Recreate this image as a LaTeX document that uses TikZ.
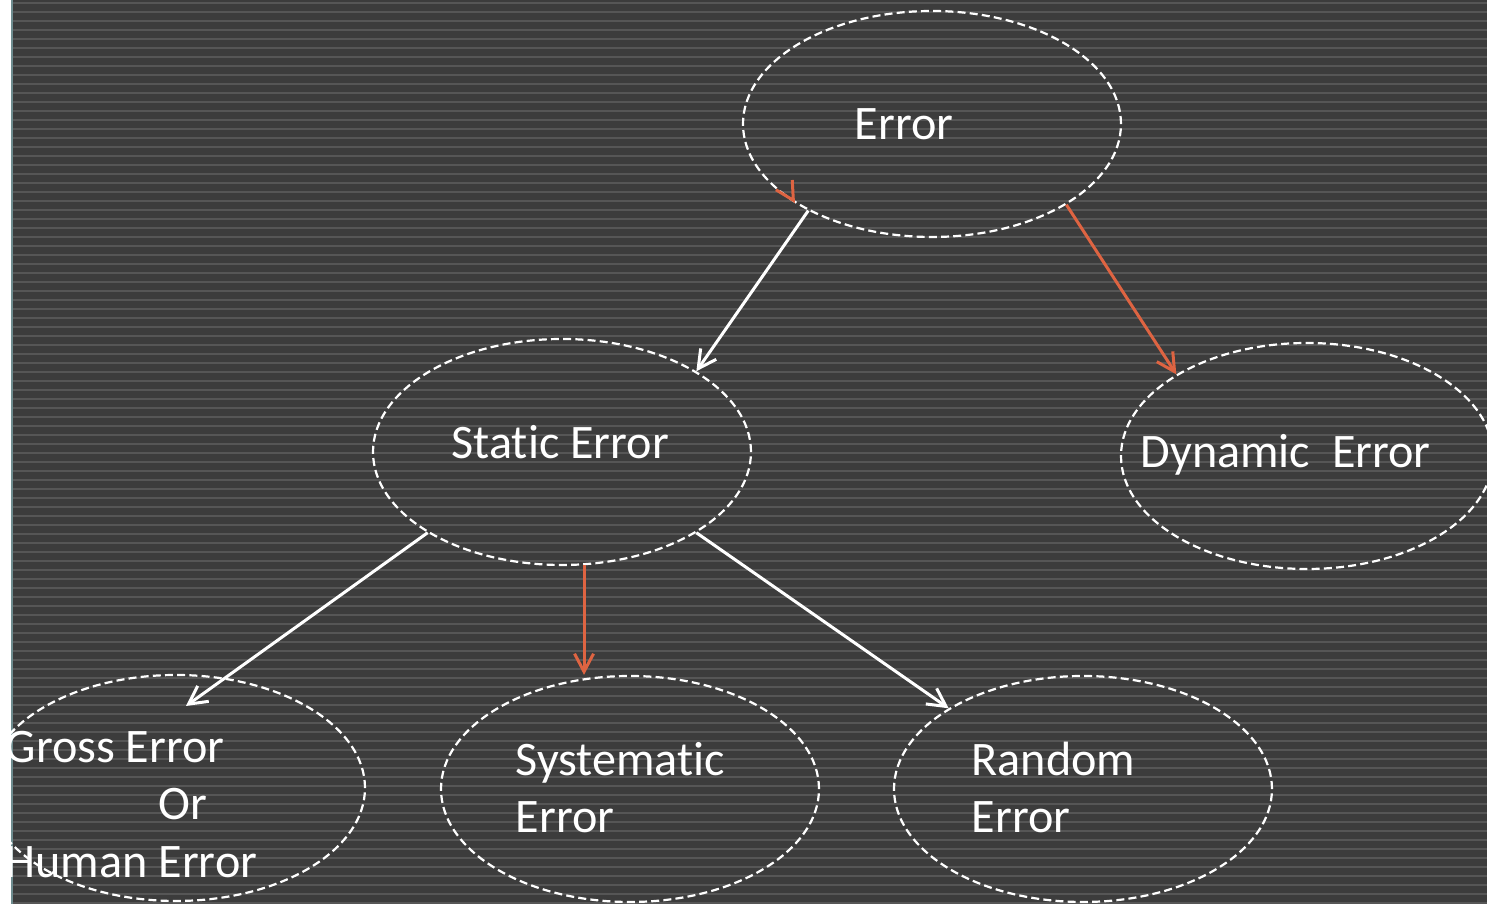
\documentclass[tikz,border=0pt]{standalone}
\usepackage{fontspec}
\setmainfont{Carlito}[Ligatures={NoCommon,NoContextual,NoRequired},Contextuals=NoAlternate]
\usetikzlibrary{shapes.geometric,arrows.meta,calc}
\definecolor{bgdark}{RGB}{60,60,60}
\definecolor{bgline}{RGB}{86,86,86}
\definecolor{edgeline}{RGB}{110,140,143}
\definecolor{accent}{RGB}{222,100,66}
% keep "t" and "i" as separate glyphs
\newcommand\tibreak{\kern0pt }
\begin{document}
\begin{tikzpicture}[x=0.1mm,y=-0.1mm,
  bubble/.style={ellipse,draw=white,line width=0.22mm,dash pattern=on 0.8mm off 0.42mm,
    minimum width=37.8mm,minimum height=22.6mm,inner sep=0pt},
  txt/.style={anchor=base west,inner sep=0pt,text=white,font=\fontsize{13.7}{16}\selectfont},
  link/.style={draw=white,line width=0.3mm,-{Straight Barb[length=1.8mm,width=1.9mm]}},
  hot/.style={link,draw=accent}]
\useasboundingbox (0,0) rectangle (1487,904);
% striped backdrop with a pale margin on the left
\fill[white] (0,0) rectangle (11,904);
\fill[edgeline] (11,0) rectangle (13,904);
\fill[bgdark] (13,0) rectangle (1487,904);
\foreach \k in {0,...,100}
  \fill[bgline] (13,{2+9*\k}) rectangle (1487,{4.5+9*\k});

% ellipses
\node[bubble] (err) at (932,124) {};
\node[bubble] (stat) at (562,452) {};
\node[bubble,minimum width=37.2mm] (dyn) at (1307,456) {};
\node[bubble] (gross) at (176,788) {};
\node[bubble] (sys) at (630,789) {};
\node[bubble] (rand) at (1083,789) {};

% connectors
\draw[link] (err.215) -- (stat.31);
\draw[hot] (err.329) -- (dyn.148);
\draw[hot] (stat.281) -- (stat.281 |- sys.north);
\draw[link] (stat.211) -- ($(gross.center)+(10,-82)$);
\draw[link] (stat.329) -- (rand.149);
\draw[hot] ($(err.210)+(-3,-5)$) -- (err.210);

% texts
\node[txt] (terr) at (854,140) {Error};
\node[txt] (tstat) at (451,459) {Stat\tibreak ic Error};
\node[txt] (tdyn) at (1140,468) {Dynamic\ \ Error};
\node[txt] (tgross1) at (5,763) {Gross Error};
\node[txt] (tgross2) at (158,820) {Or};
\node[txt] (tgross3) at (5,878) {Human Error};
\node[txt] (tsys1) at (515,776) {Systemat\tibreak ic};
\node[txt] (tsys2) at (515,833) {Error};
\node[txt] (trand1) at (971,776) {Random};
\node[txt] (trand2) at (971,833) {Error};
\end{tikzpicture}
\end{document}
